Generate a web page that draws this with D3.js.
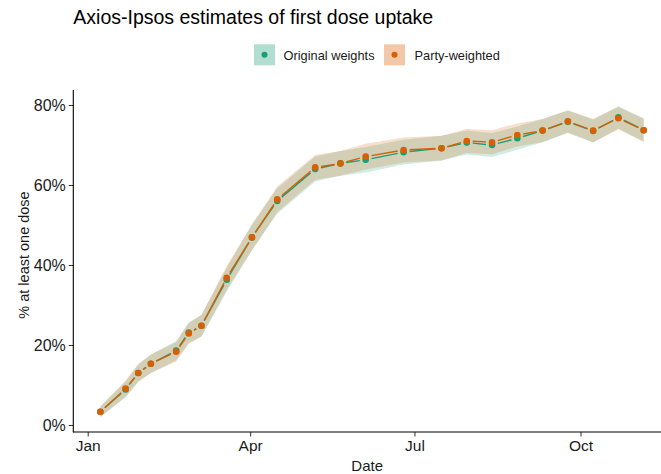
<!DOCTYPE html>
<html>
<head>
<meta charset="utf-8">
<script src="https://cdn.jsdelivr.net/npm/d3@7"></script>
<style>
  html, body { margin: 0; padding: 0; background: #fff; }
  svg { display: block; font-family: "Liberation Sans", Arial, Helvetica, sans-serif; }
</style>
</head>
<body>
<svg id="chart" width="661" height="474"></svg>
<script>
// Survey wave dates (2021) and first-dose estimates, in percent
const dates = [
  "2021-01-08", "2021-01-22", "2021-01-29", "2021-02-05", "2021-02-19", "2021-02-26",
  "2021-03-05", "2021-03-19", "2021-04-02", "2021-04-16", "2021-05-07", "2021-05-21",
  "2021-06-04", "2021-06-25", "2021-07-16", "2021-07-30", "2021-08-13", "2021-08-27",
  "2021-09-10", "2021-09-24", "2021-10-08", "2021-10-22", "2021-11-05"
];
const originalWeights = [3.3, 8.9, 13.0, 15.3, 18.6, 23.1, 24.8, 36.3, 46.9, 56.0, 64.0, 65.4,
  66.3, 68.2, 69.2, 70.6, 70.0, 71.7, 73.6, 75.8, 73.5, 76.9, 73.7];
const originalLow = [2.0, 6.9, 10.8, 13.0, 16.2, 20.5, 22.1, 33.3, 43.7, 52.8, 60.9, 62.3,
  63.1, 65.1, 66.1, 67.6, 67.0, 68.8, 70.7, 73.0, 70.6, 74.1, 70.8];
const originalHigh = [4.6, 10.9, 15.2, 17.6, 21.0, 25.7, 27.5, 39.3, 50.1, 59.2, 67.1, 68.5,
  69.5, 71.3, 72.3, 73.6, 73.0, 74.6, 76.5, 78.6, 76.4, 79.7, 76.6];

const partyWeighted = [3.3, 9.1, 13.0, 15.3, 18.3, 22.9, 24.8, 36.8, 46.9, 56.4, 64.4, 65.4,
  67.1, 68.75, 69.2, 71.0, 70.7, 72.5, 73.6, 75.9, 73.6, 76.7, 73.7];
const partyLow = [2.0, 7.1, 10.8, 13.0, 15.9, 20.3, 22.1, 33.8, 43.7, 53.2, 61.3, 62.3,
  63.9, 65.6, 66.1, 68.0, 67.7, 69.6, 70.7, 73.1, 70.7, 73.9, 70.8];
const partyHigh = [4.6, 11.1, 15.2, 17.6, 20.7, 25.5, 27.5, 39.8, 50.1, 59.6, 67.5, 68.5,
  70.3, 71.9, 72.3, 74.0, 73.7, 75.4, 76.5, 78.7, 76.5, 79.5, 76.6];

const seriesNames = ["Original weights", "Party-weighted"];
const seriesColors = ["#1B9E77", "#D95F02"];
const xTickDates = ["2021-01-01", "2021-04-01", "2021-07-01", "2021-10-01"];
const xTickLabels = ["Jan", "Apr", "Jul", "Oct"];
const yTicks = [0, 20, 40, 60, 80];

const titleText = "Axios-Ipsos estimates of first dose uptake";
const xTitle = "Date";
const yTitle = "% at least one dose";

// ---- layout ----
const panel = { left: 73.3, right: 661, top: 90, bottom: 432 };
const svg = d3.select("#chart");
const parse = d3.utcParse("%Y-%m-%d");

const series = [
  { name: seriesNames[0], color: seriesColors[0], value: originalWeights, lo: originalLow, hi: originalHigh },
  { name: seriesNames[1], color: seriesColors[1], value: partyWeighted, lo: partyLow, hi: partyHigh }
].map(s => ({
  ...s,
  rows: dates.map((d, i) => ({ date: parse(d), v: s.value[i], lo: s.lo[i], hi: s.hi[i] }))
}));

// time scale anchored on Jan 1 and Oct 1, then widened to the panel edges
const xBase = d3.scaleUtc()
  .domain([parse("2021-01-01"), parse("2021-10-01")])
  .range([87.7, 580.5]);
const x = d3.scaleUtc()
  .domain([xBase.invert(panel.left), xBase.invert(panel.right)])
  .range([panel.left, panel.right]);

const yBase = d3.scaleLinear().domain([0, 80]).range([425, 105]);
const y = d3.scaleLinear()
  .domain([yBase.invert(panel.bottom), yBase.invert(panel.top)])
  .range([panel.bottom, panel.top]);

// ---- confidence ribbons ----
const area = d3.area()
  .x(d => x(d.date))
  .y0(d => y(d.lo))
  .y1(d => y(d.hi));

svg.append("g").selectAll("path")
  .data(series)
  .join("path")
  .attr("d", s => area(s.rows))
  .attr("fill", s => s.color)
  .attr("fill-opacity", 0.2);

// ---- point paths: segments stop short of each point ----
const gap = 6;
const r = 3.3;
series.forEach(s => {
  const g = svg.append("g");
  const pts = s.rows.map(d => [x(d.date), y(d.v)]);
  const segs = d3.pairs(pts).map(([a, b]) => {
    const dx = b[0] - a[0], dy = b[1] - a[1];
    const len = Math.hypot(dx, dy);
    const ux = dx / len, uy = dy / len;
    return { x1: a[0] + ux * gap, y1: a[1] + uy * gap, x2: b[0] - ux * gap, y2: b[1] - uy * gap, len };
  }).filter(sg => sg.len > 2 * gap);
  g.selectAll("line")
    .data(segs)
    .join("line")
    .attr("x1", d => d.x1).attr("y1", d => d.y1)
    .attr("x2", d => d.x2).attr("y2", d => d.y2)
    .attr("stroke", s.color)
    .attr("stroke-width", 1.4);
  g.selectAll("circle")
    .data(s.rows)
    .join("circle")
    .attr("cx", d => x(d.date))
    .attr("cy", d => y(d.v))
    .attr("r", r)
    .attr("fill", s.color);
});

// ---- axes ----
const textColor = "#1a1a1a";

const xAxis = d3.axisBottom(x)
  .tickValues(xTickDates.map(parse))
  .tickFormat((d, i) => xTickLabels[i])
  .tickSize(4.5)
  .tickPadding(3);
const gx = svg.append("g")
  .attr("transform", `translate(0,${panel.bottom})`)
  .call(xAxis);
gx.select(".domain").remove();
gx.selectAll(".tick line").attr("stroke", "#333").attr("stroke-width", 1);
gx.selectAll(".tick text")
  .attr("fill", textColor)
  .attr("font-size", 15.5)
  .attr("dy", "0.71em");

const yAxis = d3.axisLeft(y)
  .tickValues(yTicks)
  .tickFormat(d => d + "%")
  .tickSize(4.5)
  .tickPadding(3);
const gy = svg.append("g")
  .attr("transform", `translate(${panel.left},0)`)
  .call(yAxis);
gy.select(".domain").remove();
gy.selectAll(".tick line").attr("stroke", "#333").attr("stroke-width", 1);
gy.selectAll(".tick text")
  .attr("fill", textColor)
  .attr("font-size", 16);

// axis lines
svg.append("line")
  .attr("x1", panel.left).attr("x2", panel.right)
  .attr("y1", panel.bottom).attr("y2", panel.bottom)
  .attr("stroke", "#000").attr("stroke-width", 1.1);
svg.append("line")
  .attr("x1", panel.left).attr("x2", panel.left)
  .attr("y1", panel.top).attr("y2", panel.bottom + 0.55)
  .attr("stroke", "#000").attr("stroke-width", 1.1);

// axis titles
svg.append("text")
  .attr("x", (panel.left + panel.right) / 2)
  .attr("y", 470.5)
  .attr("text-anchor", "middle")
  .attr("font-size", 15)
  .attr("fill", textColor)
  .text(xTitle);

svg.append("text")
  .attr("transform", `translate(28.5,${255}) rotate(-90)`)
  .attr("text-anchor", "middle")
  .attr("font-size", 14.5)
  .attr("fill", textColor)
  .text(yTitle);

// title
svg.append("text")
  .attr("x", panel.left)
  .attr("y", 24)
  .attr("font-size", 19.5)
  .attr("fill", "#000")
  .text(titleText);

// ---- legend ----
const legendItems = [
  { name: seriesNames[0], color: seriesColors[0], keyX: 254, textX: 283.5 },
  { name: seriesNames[1], color: seriesColors[1], keyX: 384, textX: 414.5 }
];
const legend = svg.append("g");
const keySize = 21, keyY = 44.3;
legendItems.forEach(it => {
  legend.append("rect")
    .attr("x", it.keyX).attr("y", keyY)
    .attr("width", keySize).attr("height", keySize)
    .attr("fill", it.color).attr("fill-opacity", 0.34);
  legend.append("circle")
    .attr("cx", it.keyX + keySize / 2).attr("cy", keyY + keySize / 2)
    .attr("r", 3).attr("fill", it.color);
  legend.append("text")
    .attr("x", it.textX).attr("y", 59.5)
    .attr("font-size", 12.8)
    .attr("fill", textColor)
    .text(it.name);
});
</script>
</body>
</html>
